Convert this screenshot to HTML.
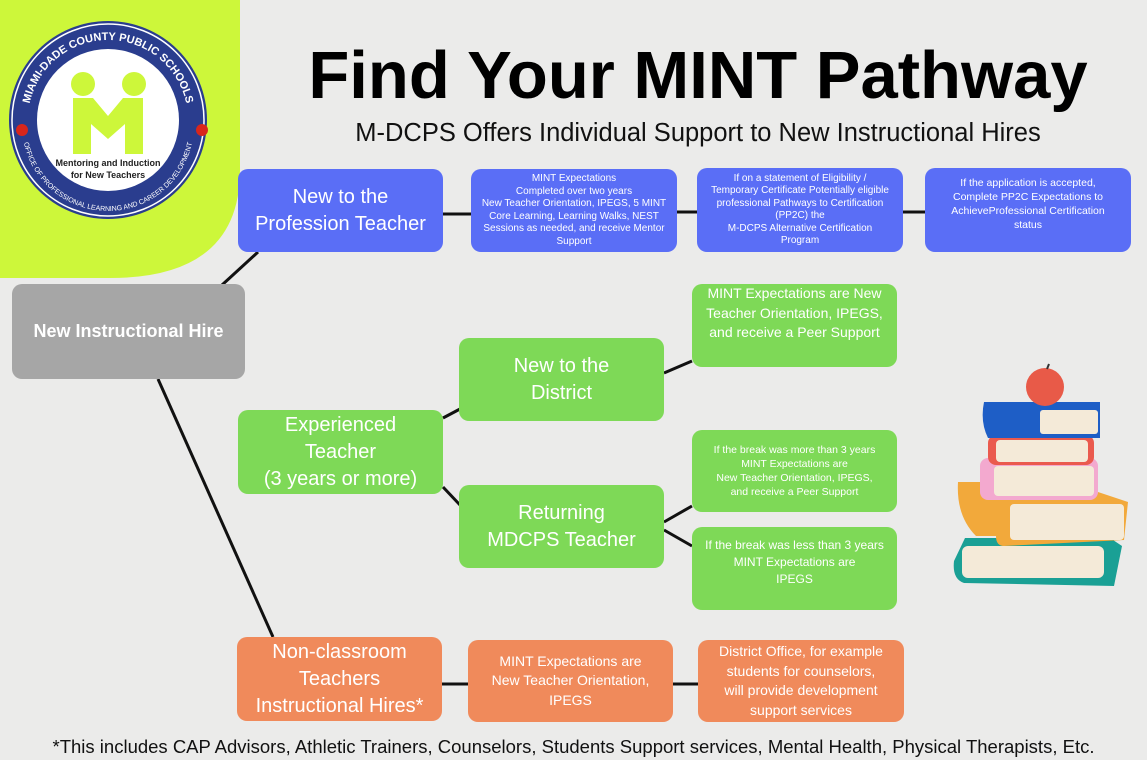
<!DOCTYPE html>
<html><head><meta charset="utf-8"><style>
*{margin:0;padding:0;box-sizing:border-box}
body{width:1147px;height:760px;background:#ebebea;position:relative;overflow:hidden;font-family:"Liberation Sans",sans-serif}
.b{position:absolute;border-radius:10px;color:#fff;display:flex;align-items:center;justify-content:center;text-align:center}
.bl{background:#5a6ef6}.gr{background:#7ed957}.or{background:#f08a5b}
.big{font-size:20px;line-height:27px}
.sm{font-size:10px;line-height:12.5px}
.md{font-size:14px;line-height:19.5px}
</style></head><body>
<svg width="1147" height="760" style="position:absolute;left:0;top:0">
<path d="M0 0H240V170Q240 278 110 278H0Z" fill="#cdf73a"/>
<circle cx="108" cy="120" r="99" fill="#2a3d8e"/>
<circle cx="108" cy="120" r="96" fill="none" stroke="#fff" stroke-width="1.5"/>
<circle cx="108" cy="120" r="71" fill="#fff"/>
<circle cx="83" cy="84" r="12" fill="#cdf73a"/><circle cx="134" cy="84" r="12" fill="#cdf73a"/>
<path d="M73 98h20l15 18 15-18h20v56h-18v-30l-17 15-17-15v30h-18z" fill="#cdf73a"/>
<text x="108" y="166" font-size="9" text-anchor="middle" font-weight="bold" fill="#222">Mentoring and Induction</text>
<text x="108" y="178" font-size="9" text-anchor="middle" font-weight="bold" fill="#222">for New Teachers</text>
<path id="arc" d="M28 120A80 80 0 0 1 188 120" fill="none"/>
<text font-size="11" fill="#fff" font-weight="bold"><textPath href="#arc" startOffset="50%" text-anchor="middle">MIAMI-DADE COUNTY PUBLIC SCHOOLS</textPath></text>
<path id="arc2" d="M22 125A86 86 0 0 0 194 125" fill="none"/>
<text font-size="7" fill="#fff"><textPath href="#arc2" startOffset="50%" text-anchor="middle">OFFICE OF PROFESSIONAL LEARNING AND CAREER DEVELOPMENT</textPath></text>
<circle cx="22" cy="130" r="6" fill="#d8261c"/><circle cx="202" cy="130" r="6" fill="#d8261c"/>
<g stroke="#111" stroke-width="3" fill="none">
<line x1="222" y1="285" x2="258" y2="252"/>
<line x1="158" y1="379" x2="273" y2="637"/>
<line x1="443" y1="214" x2="471" y2="214"/>
<line x1="677" y1="212" x2="697" y2="212"/>
<line x1="903" y1="212" x2="925" y2="212"/>
<line x1="443" y1="418" x2="460" y2="409"/>
<line x1="443" y1="487" x2="460" y2="505"/>
<line x1="664" y1="373" x2="692" y2="361"/>
<line x1="664" y1="522" x2="692" y2="506"/>
<line x1="664" y1="530" x2="692" y2="546"/>
<line x1="442" y1="684" x2="468" y2="684"/>
<line x1="673" y1="684" x2="698" y2="684"/>
</g>
<g>
<path d="M965 538h145l12 8-8 40-150-3q-12-4-10-22z" fill="#1aa095"/><rect x="962" y="546" width="142" height="32" rx="6" fill="#f4ead8"/>
<path d="M958 482h110l60 20-4 38-120 6q-8 0-8-10h-20q-20-20-18-54z" fill="#f2a93b"/><rect x="1010" y="504" width="114" height="36" rx="4" fill="#f4ead8"/>
<rect x="980" y="458" width="118" height="42" rx="8" fill="#f3a9cf"/><rect x="994" y="466" width="100" height="30" rx="4" fill="#f4ead8"/>
<rect x="988" y="435" width="106" height="30" rx="8" fill="#ea5a4e"/><rect x="996" y="440" width="92" height="22" rx="4" fill="#f4ead8"/>
<path d="M984 402h116v36h-112q-8-16-4-36z" fill="#1e5ec6"/><rect x="1040" y="410" width="58" height="24" rx="3" fill="#f4ead8"/>
<ellipse cx="1045" cy="387" rx="19" ry="19" fill="#e85a48"/><line x1="1047" y1="369" x2="1049" y2="364" stroke="#333" stroke-width="2"/>
</g>
</svg>
<div style="position:absolute;left:250px;top:38px;width:896px;text-align:center;font-size:67px;font-weight:bold;color:#000;line-height:76px">Find Your MINT Pathway</div>
<div style="position:absolute;left:250px;top:118px;width:896px;text-align:center;font-size:25.5px;color:#111;line-height:30px">M-DCPS Offers Individual Support to New Instructional Hires</div>

<div class="b bl big" style="left:238px;top:169px;width:205px;height:83px">New to the<br>Profession Teacher</div>
<div class="b bl sm" style="left:471px;top:169px;width:206px;height:83px;padding:0 4px">MINT Expectations<br>Completed over two years<br>New Teacher Orientation, IPEGS, 5 MINT Core Learning, Learning Walks, NEST Sessions as needed, and receive Mentor Support</div>
<div class="b bl sm" style="left:697px;top:168px;width:206px;height:84px;padding:0 14px">If on a statement of Eligibility / Temporary Certificate Potentially eligible professional Pathways to Certification (PP2C) the<br>M-DCPS Alternative Certification Program</div>
<div class="b bl sm" style="left:925px;top:168px;width:206px;height:84px;align-items:flex-start;padding:8px 18px 0;line-height:14px;font-size:10.5px">If the application is accepted, Complete PP2C Expectations to AchieveProfessional Certification status</div>

<div class="b" style="left:12px;top:284px;width:233px;height:95px;background:#a6a6a6;font-weight:bold;font-size:18px">New Instructional Hire</div>

<div class="b gr big" style="left:238px;top:410px;width:205px;height:84px">Experienced<br>Teacher<br>(3 years or more)</div>
<div class="b gr big" style="left:459px;top:338px;width:205px;height:83px">New to the<br>District</div>
<div class="b gr big" style="left:459px;top:485px;width:205px;height:83px">Returning<br>MDCPS Teacher</div>
<div class="b gr md" style="left:692px;top:284px;width:205px;height:83px;align-items:flex-start;padding:0 14px">MINT Expectations are New Teacher Orientation, IPEGS, and receive a Peer Support</div>
<div class="b gr sm" style="left:692px;top:430px;width:205px;height:82px;line-height:14px;font-size:10.5px">If the break was more than 3 years<br>MINT Expectations are<br>New Teacher Orientation, IPEGS,<br>and receive a Peer Support</div>
<div class="b gr" style="left:692px;top:527px;width:205px;height:83px;font-size:12px;line-height:17px;align-items:flex-start;padding-top:10px">If the break was less than 3 years<br>MINT Expectations are<br>IPEGS</div>

<div class="b or big" style="left:237px;top:637px;width:205px;height:84px">Non-classroom<br>Teachers<br>Instructional Hires*</div>
<div class="b or md" style="left:468px;top:640px;width:205px;height:82px;padding:0 10px">MINT Expectations are<br>New Teacher Orientation,<br>IPEGS</div>
<div class="b or md" style="left:698px;top:640px;width:206px;height:82px;padding:0 18px">District Office, for example students for counselors, will provide development support services</div>

<div style="position:absolute;left:0;top:736px;width:1147px;text-align:center;font-size:18.5px;color:#111;white-space:nowrap">*This includes CAP Advisors, Athletic Trainers, Counselors, Students Support services, Mental Health, Physical Therapists, Etc.</div>
</body></html>
